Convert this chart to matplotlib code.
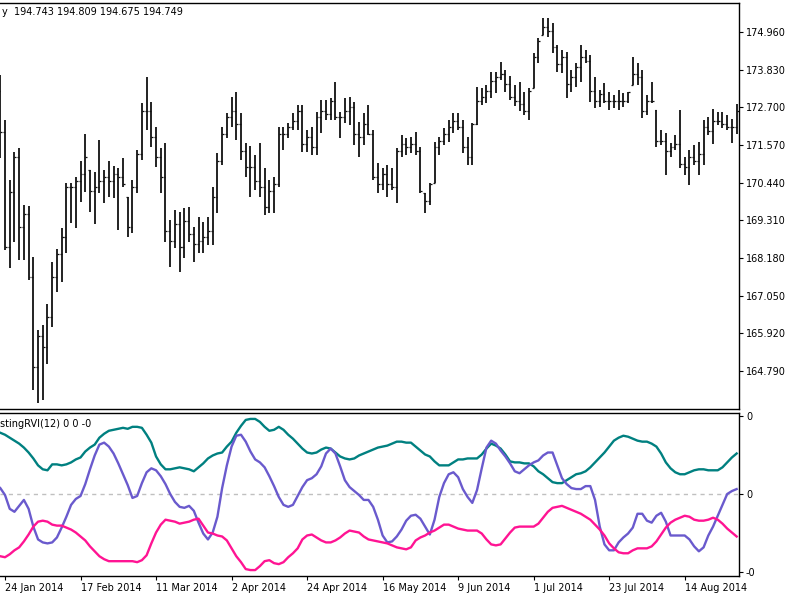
import numpy as np
import pandas as pd
import matplotlib
matplotlib.use("Agg")
import matplotlib.pyplot as plt

# daily bars, 23 Jan 2014 .. 29 Aug 2014
dates = pd.bdate_range("2014-01-23", periods=157)

highs = [173.67, 172.32, 170.52, 171.36, 171.48, 169.77, 169.74, 168.21, 166.02, 166.17,
         166.80, 168.06, 168.45, 169.08, 170.43, 170.43, 170.61, 171.09, 171.90, 170.82,
         170.76, 171.72, 170.82, 171.09, 170.94, 170.88, 171.18, 170.01, 170.52, 171.42,
         172.83, 173.61, 172.86, 172.11, 171.48, 171.63, 169.32, 169.62, 169.56, 169.68,
         169.71, 169.11, 169.41, 169.26, 169.41, 170.31, 171.33, 172.11, 172.53, 173.01,
         173.16, 172.53, 171.63, 171.54, 171.27, 171.63, 170.88, 170.52, 170.61, 172.11,
         172.11, 172.23, 172.53, 172.77, 172.77, 172.02, 172.11, 172.56, 172.92, 172.92,
         172.98, 173.46, 172.56, 172.98, 173.01, 172.86, 172.26, 172.53, 172.77, 172.02,
         171.03, 170.88, 170.97, 170.88, 171.48, 171.87, 171.78, 171.81, 171.96, 171.51,
         170.13, 170.43, 171.66, 171.81, 172.08, 172.32, 172.53, 172.53, 172.32, 171.81,
         172.23, 173.31, 173.28, 173.37, 173.76, 173.76, 174.06, 173.82, 173.64, 173.37,
         173.46, 173.16, 173.28, 174.33, 174.78, 175.38, 175.38, 175.23, 174.57, 174.42,
         174.36, 173.82, 174.03, 174.57, 174.42, 174.27, 173.61, 173.22, 173.43, 173.16,
         173.07, 173.22, 173.13, 173.16, 174.21, 174.03, 173.82, 173.07, 173.46, 172.62,
         172.02, 171.93, 171.63, 171.87, 172.62, 171.21, 171.42, 171.57, 171.66, 172.32,
         172.41, 172.64, 172.56, 172.56, 172.47, 172.34, 172.79]

lows = [171.18, 168.42, 167.88, 168.66, 168.12, 168.12, 167.52, 164.22, 163.83, 163.92,
        165.00, 166.11, 167.16, 167.46, 168.33, 169.23, 169.08, 169.86, 170.16, 169.56,
        169.20, 170.13, 169.83, 170.01, 169.98, 169.02, 170.31, 168.81, 168.93, 170.13,
        171.12, 172.02, 171.51, 170.91, 170.13, 168.66, 167.91, 168.48, 167.76, 168.18,
        168.66, 168.06, 168.33, 168.33, 168.57, 168.57, 169.53, 170.97, 171.78, 172.11,
        171.72, 171.12, 170.61, 170.01, 170.22, 170.01, 169.47, 169.53, 169.53, 170.31,
        171.42, 171.78, 172.02, 172.02, 171.36, 171.36, 171.27, 171.27, 171.93, 172.32,
        172.32, 172.32, 171.78, 172.23, 172.17, 171.57, 171.21, 171.57, 171.87, 170.52,
        170.13, 170.22, 170.01, 170.22, 169.83, 171.21, 171.27, 171.33, 171.27, 170.13,
        169.53, 169.77, 170.43, 171.27, 171.57, 171.66, 171.93, 172.02, 171.33, 170.97,
        170.97, 172.17, 172.77, 172.83, 172.98, 173.13, 173.52, 173.16, 172.92, 172.74,
        172.59, 172.47, 172.32, 173.28, 174.03, 174.87, 174.81, 174.33, 173.76, 173.73,
        172.98, 173.16, 173.31, 173.46, 174.03, 172.86, 172.68, 172.71, 172.83, 172.62,
        172.68, 172.62, 172.71, 172.83, 173.37, 173.37, 172.38, 172.47, 172.83, 171.51,
        171.57, 170.67, 171.21, 171.42, 170.88, 170.67, 170.37, 170.97, 170.67, 170.97,
        171.87, 171.59, 172.17, 172.08, 172.01, 171.62, 171.89]

closes = [171.96, 168.50, 170.16, 171.20, 169.10, 169.50, 167.60, 164.90, 165.85, 165.50,
          166.40, 167.60, 168.30, 168.80, 170.30, 170.30, 170.50, 170.70, 171.20, 170.20,
          170.30, 170.50, 170.60, 170.50, 170.70, 170.60, 170.40, 169.10, 170.30, 171.30,
          172.60, 172.60, 171.80, 171.20, 170.60, 169.00, 168.70, 169.20, 168.50, 169.30,
          168.90, 168.60, 168.70, 168.80, 169.00, 170.00, 171.10, 171.90, 172.40, 172.60,
          172.20, 171.40, 170.90, 170.90, 170.50, 170.30, 169.70, 170.20, 170.40, 171.90,
          171.90, 172.10, 172.30, 172.60, 171.60, 171.80, 171.50, 172.40, 172.60, 172.50,
          172.90, 172.40, 172.40, 172.60, 172.70, 171.90, 171.80, 172.20, 171.90, 170.60,
          170.40, 170.70, 170.40, 170.30, 171.40, 171.60, 171.50, 171.60, 171.40, 170.20,
          169.90, 170.40, 171.50, 171.70, 171.90, 172.10, 172.30, 172.10, 171.50, 171.20,
          172.20, 172.90, 173.00, 173.20, 173.50, 173.60, 173.70, 173.40, 173.00, 172.90,
          172.80, 172.60, 173.20, 174.20, 174.70, 175.10, 175.00, 174.50, 174.00, 174.20,
          173.40, 173.60, 173.90, 174.20, 174.10, 173.20, 172.90, 173.10, 172.90, 172.90,
          172.90, 172.90, 172.90, 173.15, 173.70, 173.60, 172.60, 172.90, 172.90, 171.70,
          171.70, 171.40, 171.50, 171.60, 171.00, 170.90, 171.20, 171.10, 171.30, 172.10,
          172.00, 172.30, 172.30, 172.20, 172.10, 172.10, 172.60]

# indicator lines, in units of 1e-4
rvi_teal = [62, 60, 57, 54, 51, 47, 42, 36, 29, 25, 24, 30, 30, 29, 30, 32, 35, 37, 43, 47,
            50, 57, 61, 64, 65, 66, 67, 66, 68, 68, 67, 60, 52, 38, 30, 25, 25, 26, 27, 26,
            25, 23, 27, 31, 36, 39, 41, 42, 48, 53, 62, 69, 75, 76, 76, 73, 68, 64, 65, 68,
            65, 60, 56, 51, 46, 42, 41, 42, 45, 47, 46, 42, 38, 36, 35, 36, 39, 41, 43, 45,
            47, 48, 49, 51, 53, 53, 52, 52, 48, 44, 40, 38, 33, 29, 29, 29, 32, 35, 35, 36,
            36, 36, 40, 46, 51, 49, 46, 40, 33, 32, 32, 31, 31, 28, 23, 20, 16, 12, 11, 11,
            14, 17, 20, 21, 23, 27, 32, 37, 42, 48, 54, 57, 59, 58, 56, 54, 53, 53, 51, 48,
            41, 32, 26, 22, 20, 20, 22, 24, 25, 25, 24, 24, 24, 27, 32, 37, 41]

rvi_blue = [6, -1, -15, -18, -12, -6, -15, -33, -46, -49, -50, -49, -44, -34, -23, -11, -5, -2, 10, 25,
            39, 50, 52, 48, 41, 31, 20, 9, -4, -2, 11, 22, 26, 24, 18, 10, 0, -8, -13, -14,
            -12, -17, -29, -40, -46, -39, -23, 6, 29, 48, 59, 60, 53, 43, 35, 32, 27, 18, 8, -3,
            -11, -13, -11, -2, 7, 14, 16, 20, 28, 41, 46, 41, 28, 14, 7, 3, -1, -6, -6, -13,
            -26, -42, -49, -48, -43, -36, -27, -22, -21, -25, -33, -41, -26, -3, 11, 20, 22, 17, 5, -3,
            -9, 4, 26, 47, 54, 51, 44, 38, 31, 23, 21, 25, 29, 32, 34, 39, 42, 42, 29, 16,
            10, 6, 5, 5, 8, 8, -6, -33, -51, -57, -57, -49, -44, -40, -34, -20, -20, -27, -29, -22,
            -19, -28, -42, -42, -42, -42, -46, -53, -58, -54, -42, -33, -22, -11, 0, 3, 5]

rvi_pink = [-63, -64, -61, -57, -54, -48, -41, -33, -28, -27, -28, -31, -32, -32, -34, -36, -39, -43, -47, -53,
            -58, -63, -66, -68, -68, -68, -68, -68, -68, -69, -67, -62, -50, -39, -31, -26, -27, -28, -30, -29,
            -28, -26, -25, -32, -39, -40, -42, -43, -47, -55, -63, -69, -76, -77, -77, -73, -68, -67, -70, -71,
            -69, -64, -60, -55, -46, -42, -41, -44, -47, -49, -49, -47, -44, -40, -37, -38, -39, -43, -46, -47,
            -48, -49, -50, -52, -54, -55, -56, -54, -47, -44, -42, -39, -37, -34, -31, -31, -33, -35, -36, -37,
            -37, -37, -40, -46, -51, -52, -51, -45, -39, -34, -33, -33, -33, -33, -30, -24, -18, -14, -13, -12,
            -14, -16, -18, -20, -23, -26, -31, -36, -42, -50, -55, -59, -60, -60, -57, -55, -55, -55, -53, -48,
            -41, -34, -29, -26, -24, -22, -23, -26, -27, -27, -26, -24, -26, -30, -35, -39, -43]

price_ticks = [174.960, 173.830, 172.700, 171.570, 170.440, 169.310, 168.180, 167.050, 165.920, 164.790]
rvi_ticks = [0.0079, 0.0, -0.0079]

x = np.arange(len(dates))
highs = np.array(highs)
lows = np.array(lows)
closes = np.array(closes)
opens = np.clip(np.r_[173.2, closes[:-1]], lows, highs)

W, H = 800, 600
fig = plt.figure(figsize=(8, 6), dpi=100)
fig.patch.set_facecolor("white")

ax = fig.add_axes([0, 1 - 409 / H, 739 / W, 406 / H])
ax2 = fig.add_axes([0, 1 - 576 / H, 739 / W, 163 / H], sharex=ax)

# price bars
ax.vlines(x, lows, highs, color="#111111", lw=1.3)
ax.hlines(opens, x - 0.4, x, color="#111111", lw=0.9)
ax.hlines(closes, x, x + 0.4, color="#111111", lw=0.9)
ax.set_xlim(-0.06, 156.5)
ax.set_ylim(163.65, 175.83)
ax.set_yticks(price_ticks)
ax.set_yticklabels([f"{v:.3f}" for v in price_ticks])

# indicator
ax2.axhline(0, color="#c0c0c0", lw=1, ls=(0, (3, 3)))
ax2.plot(x, np.array(rvi_teal) * 1e-4, color="#008080", lw=1.7)
ax2.plot(x, np.array(rvi_blue) * 1e-4, color="#6A5ACD", lw=1.7)
ax2.plot(x, np.array(rvi_pink) * 1e-4, color="#FF1493", lw=1.7)
ax2.set_ylim(-0.0083, 0.0082)
ax2.set_yticks(rvi_ticks)
ax2.set_yticklabels([f"{v:.0f}" for v in rvi_ticks])

tick_idx = list(range(1, len(dates), 16))
ax2.set_xticks(tick_idx)
ax2.set_xticklabels([f"{dates[i].day} {dates[i]:%b %Y}" for i in tick_idx], ha="left")

for a in (ax, ax2):
    a.yaxis.tick_right()
    a.tick_params(axis="y", direction="out", length=3, width=0.8, pad=2, labelsize=7)
    a.spines["left"].set_visible(False)
    for s in ("top", "right", "bottom"):
        a.spines[s].set_linewidth(1.0)
ax.tick_params(axis="x", bottom=False, labelbottom=False)
ax2.tick_params(axis="x", direction="out", length=3, width=0.8, pad=2, labelsize=7)

fig.text(2 / W, 1 - 12 / H, "y  194.743 194.809 194.675 194.749", fontsize=7, va="center", ha="left")
ax2.text(0.0, 1 - 11 / 163, "stingRVI(12) 0 0 -0", transform=ax2.transAxes,
         fontsize=7, va="center", ha="left")

fig.savefig("out.png", dpi=100)
